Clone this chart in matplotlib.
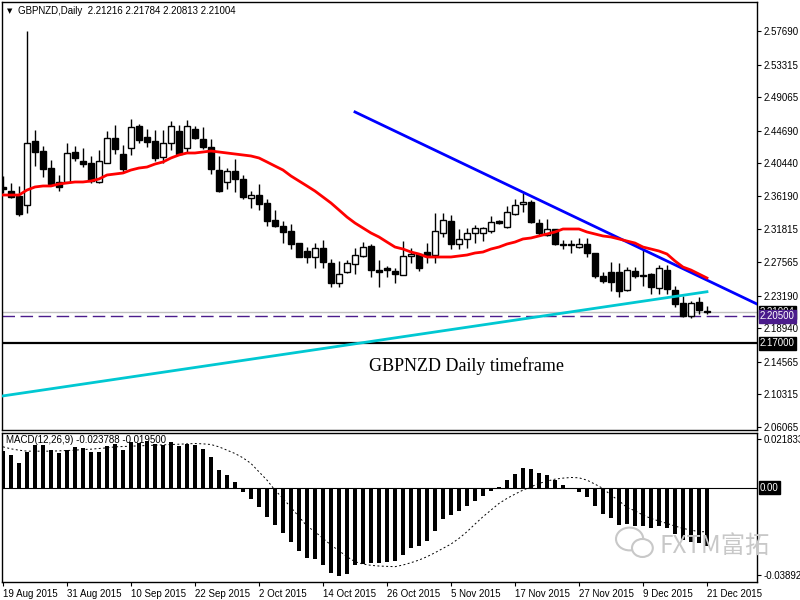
import matplotlib.pyplot as plt
import matplotlib.patches as mpatches
import numpy as np

plt.rcParams['font.family'] = ['Liberation Sans', 'DejaVu Sans']

# daily candles, 19 Aug 2015 .. 21 Dec 2015
opens = [2.3735, 2.3682, 2.3617, 2.3500, 2.4334, 2.4204, 2.3982, 2.3800, 2.3800, 2.4191,
         2.4074, 2.4047, 2.3800, 2.4047, 2.4374, 2.4165, 2.4243, 2.4530, 2.4387, 2.4334,
         2.4126, 2.4308, 2.4465, 2.4243, 2.4491, 2.4360, 2.4256, 2.3956, 2.3800, 2.3943,
         2.3839, 2.3591, 2.3630, 2.3526, 2.3304, 2.3226, 2.3161, 2.3004, 2.2900, 2.2822,
         2.2939, 2.2744, 2.2483, 2.2626, 2.2731, 2.2835, 2.2965, 2.2652, 2.2678, 2.2639,
         2.2587, 2.2835, 2.2861, 2.2887, 2.2848, 2.3135, 2.3291, 2.2991, 2.3057, 2.3135,
         2.3135, 2.3161, 2.3291, 2.3213, 2.3382, 2.3513, 2.3539, 2.3265, 2.3109, 2.3187,
         2.2991, 2.2991, 2.2952, 2.2991, 2.2874, 2.2574, 2.2626, 2.2626, 2.2391, 2.2639,
         2.2587, 2.2600, 2.2418, 2.2652, 2.2391, 2.2222, 2.2052, 2.2235, 2.21216]
highs = [2.3878, 2.3787, 2.3748, 2.5769, 2.4478, 2.4269, 2.4087, 2.3891, 2.4308, 2.4269,
         2.4243, 2.4139, 2.4217, 2.4465, 2.4543, 2.4282, 2.4621, 2.4556, 2.4491, 2.4478,
         2.4478, 2.4595, 2.4543, 2.4608, 2.4530, 2.4517, 2.4360, 2.4139, 2.3982, 2.4100,
         2.3891, 2.3682, 2.3774, 2.3578, 2.3435, 2.3291, 2.3252, 2.3004, 2.2952, 2.3004,
         2.3044, 2.2796, 2.2770, 2.2783, 2.2939, 2.3017, 2.2991, 2.2783, 2.2704, 2.2678,
         2.3030, 2.2939, 2.2874, 2.3004, 2.3396, 2.3396, 2.3369, 2.3187, 2.3200, 2.3239,
         2.3213, 2.3356, 2.3304, 2.3487, 2.3578, 2.3656, 2.3565, 2.3317, 2.3317, 2.3187,
         2.3044, 2.3044, 2.3070, 2.3070, 2.2874, 2.2626, 2.2757, 2.2744, 2.2691, 2.2691,
         2.2913, 2.2613, 2.2717, 2.2717, 2.2444, 2.2313, 2.2248, 2.2300, 2.21784]
lows = [2.3656, 2.3591, 2.3356, 2.3396, 2.4008, 2.3865, 2.3761, 2.3682, 2.3787, 2.4074,
        2.3995, 2.3787, 2.3787, 2.4047, 2.4165, 2.3917, 2.4152, 2.4308, 2.4256, 2.4074,
        2.4047, 2.4217, 2.4152, 2.4178, 2.4360, 2.4230, 2.3904, 2.3669, 2.3709, 2.3669,
        2.3578, 2.3461, 2.3435, 2.3226, 2.3213, 2.3004, 2.2926, 2.2822, 2.2744, 2.2678,
        2.2678, 2.2431, 2.2431, 2.2613, 2.2600, 2.2822, 2.2561, 2.2431, 2.2561, 2.2483,
        2.2587, 2.2744, 2.2639, 2.2744, 2.2744, 2.3083, 2.2926, 2.2926, 2.2939, 2.3004,
        2.3030, 2.3135, 2.3252, 2.3200, 2.3369, 2.3409, 2.3265, 2.3109, 2.3096, 2.2978,
        2.2926, 2.2874, 2.2939, 2.2822, 2.2548, 2.2483, 2.2378, 2.2300, 2.2378, 2.2548,
        2.2444, 2.2339, 2.2339, 2.2339, 2.2170, 2.2039, 2.2026, 2.2078, 2.20813]
closes = [2.3709, 2.3604, 2.3382, 2.4308, 2.4191, 2.3969, 2.3774, 2.3735, 2.4178, 2.4113,
          2.4034, 2.3813, 2.4074, 2.4374, 2.4230, 2.3969, 2.4517, 2.4347, 2.4321, 2.4113,
          2.4308, 2.4530, 2.4165, 2.4530, 2.4374, 2.4256, 2.3969, 2.3682, 2.3943, 2.3839,
          2.3604, 2.3630, 2.3513, 2.3291, 2.3226, 2.3148, 2.2991, 2.2822, 2.2822, 2.2939,
          2.2757, 2.2483, 2.2600, 2.2744, 2.2848, 2.2952, 2.2652, 2.2626, 2.2652, 2.2600,
          2.2835, 2.2861, 2.2678, 2.2835, 2.3161, 2.3304, 2.2991, 2.3057, 2.3135, 2.3200,
          2.3200, 2.3278, 2.3265, 2.3409, 2.3500, 2.3539, 2.3278, 2.3135, 2.3187, 2.2991,
          2.2978, 2.2978, 2.2991, 2.2874, 2.2574, 2.2509, 2.2496, 2.2378, 2.2652, 2.2574,
          2.2574, 2.2431, 2.2678, 2.2405, 2.2209, 2.2052, 2.2222, 2.2131, 2.21004]

# red moving average
ma_line = [2.3630, 2.3630, 2.3630, 2.3695, 2.3735, 2.3748, 2.3748, 2.3774, 2.3787, 2.3800,
           2.3800, 2.3813, 2.3839, 2.3891, 2.3904, 2.3917, 2.3956, 2.3982, 2.3995, 2.4034,
           2.4061, 2.4113, 2.4152, 2.4178, 2.4178, 2.4191, 2.4204, 2.4191, 2.4178, 2.4165,
           2.4152, 2.4139, 2.4113, 2.4061, 2.4008, 2.3956, 2.3878, 2.3813, 2.3748, 2.3682,
           2.3604, 2.3526, 2.3435, 2.3343, 2.3265, 2.3200, 2.3135, 2.3083, 2.3017, 2.2952,
           2.2926, 2.2887, 2.2861, 2.2822, 2.2822, 2.2822, 2.2822, 2.2835, 2.2848, 2.2874,
           2.2887, 2.2926, 2.2952, 2.2991, 2.3017, 2.3057, 2.3070, 2.3096, 2.3122, 2.3148,
           2.3187, 2.3187, 2.3187, 2.3148, 2.3122, 2.3096, 2.3083, 2.3057, 2.3030, 2.3004,
           2.2952, 2.2926, 2.2900, 2.2861, 2.2770, 2.2691, 2.2652, 2.2600, 2.2548]

# MACD(12,26,9) histogram and signal
macd_hist = [0.01632, 0.01453, 0.01110, 0.01602, 0.01900, 0.01900, 0.01706, 0.01557, 0.01706, 0.01825,
             0.01795, 0.01602, 0.01602, 0.01855, 0.01974, 0.01706, 0.02049, 0.02019, 0.02093, 0.01974,
             0.01900, 0.02049, 0.01855, 0.01974, 0.01900, 0.01751, 0.01378, 0.00782, 0.00559, 0.00246,
             -0.00186, -0.00514, -0.00857, -0.01304, -0.01676, -0.02019, -0.02421, -0.02824, -0.03136, -0.03211,
             -0.03464, -0.03807, -0.03941, -0.03867, -0.03464, -0.03420, -0.03360, -0.03360, -0.03315, -0.03285,
             -0.03017, -0.02719, -0.02615, -0.02377, -0.01930, -0.01408, -0.01229, -0.01036, -0.00812, -0.00589,
             -0.00365, -0.00142, 0.00037, 0.00335, 0.00603, 0.00857, 0.00827, 0.00663, 0.00559, 0.00335,
             0.00112, -0.00037, -0.00186, -0.00410, -0.00812, -0.01185, -0.01348, -0.01676, -0.01646, -0.01706,
             -0.01721, -0.01825, -0.01721, -0.01825, -0.02079, -0.02347, -0.02421, -0.02496, -0.02615]
macd_signal = [0.01825, 0.01736, 0.01676, 0.01632, 0.01632, 0.01632, 0.01632, 0.01646, 0.01661, 0.01676,
               0.01706, 0.01721, 0.01751, 0.01781, 0.01825, 0.01840, 0.01855, 0.01870, 0.01885, 0.01900,
               0.01915, 0.01930, 0.01944, 0.01959, 0.01974, 0.01959, 0.01930, 0.01825, 0.01676, 0.01527,
               0.01334, 0.01080, 0.00708, 0.00335, -0.00112, -0.00484, -0.00887, -0.01304, -0.01721, -0.01974,
               -0.02272, -0.02570, -0.02824, -0.03092, -0.03315, -0.03420, -0.03479, -0.03509, -0.03524, -0.03539,
               -0.03464, -0.03360, -0.03241, -0.03092, -0.02913, -0.02719, -0.02525, -0.02272, -0.01974, -0.01632,
               -0.01304, -0.01006, -0.00708, -0.00484, -0.00291, -0.00112, 0.00037, 0.00186, 0.00291, 0.00380,
               0.00425, 0.00454, 0.00440, 0.00335, 0.00156, -0.00037, -0.00335, -0.00589, -0.00887, -0.01036,
               -0.01229, -0.01378, -0.01497, -0.01602, -0.01721, -0.01825, -0.01900, -0.01974, -0.01974]

# trend lines (bar index, price)
blue_x = [44, 94.25]
blue_y = [2.4713, 2.2209]
cyan_x = [-0.125, 88]
cyan_y = [2.1009, 2.2369]

bid = 2.21004
level_purple = 2.20500
level_black = 2.17000

price_ticks = [2.57690, 2.53315, 2.49065, 2.44690, 2.40440, 2.36190, 2.31815,
               2.27565, 2.23190, 2.18940, 2.14565, 2.10315, 2.06065]
macd_ticks = [0.021833, -0.038928]
date_labels = ['19 Aug 2015', '31 Aug 2015', '10 Sep 2015', '22 Sep 2015', '2 Oct 2015',
               '14 Oct 2015', '26 Oct 2015', '5 Nov 2015', '17 Nov 2015', '27 Nov 2015',
               '9 Dec 2015', '21 Dec 2015']

n = len(closes)
bars = np.arange(n)

fig = plt.figure(figsize=(8, 6), dpi=100)
ax = fig.add_axes([0.0025, 0.2833, 0.9437, 0.7134])
ax_m = fig.add_axes([0.0025, 0.03, 0.9437, 0.248], sharex=ax)

# свечи
for i in range(n):
    o, h, l, c = opens[i], highs[i], lows[i], closes[i]
    ax.vlines(i, l, h, color='black', lw=1, zorder=2)
    lo = min(o, c)
    hi = max(o, c)
    face = 'white' if c > o else 'black'
    ax.add_patch(mpatches.Rectangle((i - 0.33, lo), 0.66, max(hi - lo, 0.0004),
                                    facecolor=face, edgecolor='black', lw=1, zorder=3))

ax.plot(cyan_x, cyan_y, color='#00c8d2', lw=2, zorder=4)
ax.plot(blue_x, blue_y, color='#0000ff', lw=2, zorder=4)
ax.plot(bars, ma_line, color='#ff0000', lw=2, zorder=5)

ax.axhline(bid, color='#c0c0c0', lw=1, zorder=1)
ax.axhline(level_purple, color='#4b1c8c', lw=1, ls=(0, (9, 4)), zorder=1)
ax.axhline(level_black, color='black', lw=1.6, zorder=1)

ytr = ax.get_yaxis_transform()
ax.text(1.004, bid, '%.5f' % bid, transform=ytr, va='center', ha='left', fontsize=7,
        color='white', bbox=dict(boxstyle='square,pad=0.15', fc='black', ec='black'), clip_on=False)
ax.text(1.004, level_purple, '%.5f' % level_purple, transform=ytr, va='center', ha='left', fontsize=7,
        color='white', bbox=dict(boxstyle='square,pad=0.15', fc='#4b1c8c', ec='#4b1c8c'), clip_on=False)
ax.text(1.004, level_black, '%.5f' % level_black, transform=ytr, va='center', ha='left', fontsize=7,
        color='white', bbox=dict(boxstyle='square,pad=0.15', fc='black', ec='black'), clip_on=False)

ax.text(58, 2.1401, 'GBPNZD Daily timeframe', ha='center', va='center',
        family='Liberation Serif', fontsize=13)

ax.set_xlim(-0.125, 94.25)
ax.set_ylim(2.0566, 2.6147)
ax.yaxis.tick_right()
ax.set_yticks(price_ticks)
ax.set_yticklabels(['%.5f' % v for v in price_ticks])
ax.tick_params(axis='y', direction='out', length=3, pad=2, labelsize=7)
ax.tick_params(axis='x', bottom=False, labelbottom=False)

# MACD
ax_m.bar(bars, macd_hist, width=0.42, color='black')
ax_m.plot(bars, macd_signal, color='black', lw=0.7, ls=(0, (2, 2.5)))
ax_m.axhline(0, color='black', lw=0.8)
ax_m.set_ylim(-0.04224, 0.02436)
ax_m.yaxis.tick_right()
ax_m.set_yticks(macd_ticks)
ax_m.set_yticklabels(['%.6f' % v for v in macd_ticks])
ax_m.tick_params(axis='y', direction='out', length=3, pad=2, labelsize=7)
ax_m.text(1.004, 0, '0.00', transform=ax_m.get_yaxis_transform(), va='center', ha='left',
          fontsize=7, color='white', bbox=dict(boxstyle='square,pad=0.15', fc='black', ec='black'),
          clip_on=False)

ax_m.set_xticks(range(0, n, 8))
ax_m.set_xticklabels(date_labels, ha='left')
ax_m.tick_params(axis='x', direction='out', length=3, pad=2, labelsize=7)

for a in (ax, ax_m):
    for s in a.spines.values():
        s.set_linewidth(1)

fig.text(0.009, 0.9817, '▼', fontsize=5, va='center', family='DejaVu Sans')
fig.text(0.022, 0.9817, 'GBPNZD,Daily  2.21216 2.21784 2.20813 2.21004', fontsize=7, va='center')
fig.text(0.007, 0.2667, 'MACD(12,26,9) -0.023788 -0.019500', fontsize=7, va='center')

# watermark
fig.patches.append(mpatches.Ellipse((0.787, 0.1017), 0.034, 0.038, transform=fig.transFigure,
                                    fill=False, ec='#c8c8c8', lw=1.5))
fig.patches.append(mpatches.Ellipse((0.803, 0.0867), 0.026, 0.03, transform=fig.transFigure,
                                    fc='white', ec='#c8c8c8', lw=1.5))
fig.text(0.825, 0.09, 'FXTM富拓', fontsize=17.5, color='#c8c8c8', va='center',
         family=['Noto Sans CJK SC', 'DejaVu Sans'])

fig.savefig('out.png', dpi=100)
